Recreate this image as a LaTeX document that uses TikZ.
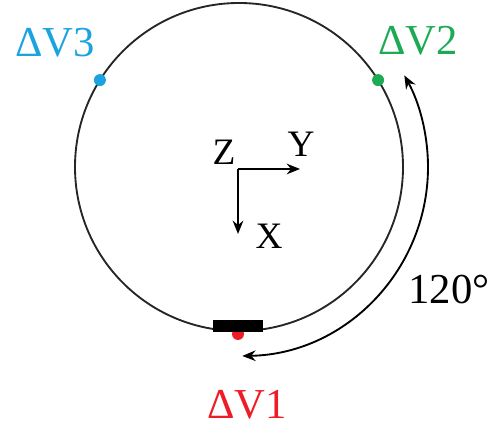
\documentclass[tikz,border=0pt]{standalone}
\usepackage{fontspec}
\setmainfont{Liberation Serif}
\usepackage{xcolor}
\usepackage{tikz}
\usetikzlibrary{arrows.meta,calc}
\definecolor{vblue}{HTML}{1BA3E0}
\definecolor{vgreen}{HTML}{1DAA55}
\definecolor{vred}{HTML}{EE1C25}

\begin{document}
\begin{tikzpicture}[
    x=0.75pt, y=0.75pt,
    >={Stealth[length=10pt, width=8pt]},
    orbit/.style={draw=black!85, line width=1.4pt},
    dot/.style={circle, inner sep=0pt, minimum size=9pt},
    vlabel/.style={font=\fontsize{32}{36}\selectfont, inner sep=0pt},
    axlabel/.style={font=\fontsize{28}{32}\selectfont, inner sep=0pt}
  ]
    \useasboundingbox (0,0) rectangle (500,427);
    % orbit
    \coordinate (c) at (239,260);
    \draw[orbit] (c) circle[radius=164];
    % satellites
    \node[dot, fill=vred] (dvonedot) at (238,93) {};
    \node[rectangle, fill=black, minimum width=37.5pt, minimum height=9pt, inner sep=0pt] (sat) at (238,101) {};
    \node[dot, fill=vgreen] (dvtwodot) at ($(c)+(32:164)$) {};
    \node[dot, fill=vblue] (dvthreedot) at ($(c)+(148:164)$) {};
    \node[vlabel, text=vred] (dvone) at (247,22) {ΔV1};
    \node[vlabel, text=vgreen] (dvtwo) at (418,386) {ΔV2};
    \node[vlabel, text=vblue] (dvthree) at (55,384) {ΔV3};
    % axes
    \coordinate (o) at (238,258);
    \coordinate (yend) at (300,258);
    \coordinate (xend) at (238,193);
    \draw[->, line width=1.4pt] (o) -- (yend);
    \draw[->, line width=1.4pt] (o) -- (xend);
    \node[axlabel] (zlab) at (224,275) {Z};
    \node[axlabel] (ylab) at (301,283) {Y};
    \node[axlabel] (xlab) at (269,191) {X};
    % phase angle
    \coordinate (arcstart) at ($(c)+(-89:189)$);
    \draw[<->, line width=1.4pt] (arcstart) arc[start angle=-89, end angle=29, radius=189];
    \node[vlabel, text=black] (angle) at (449,137) {120°};
  \end{tikzpicture}
\end{document}
